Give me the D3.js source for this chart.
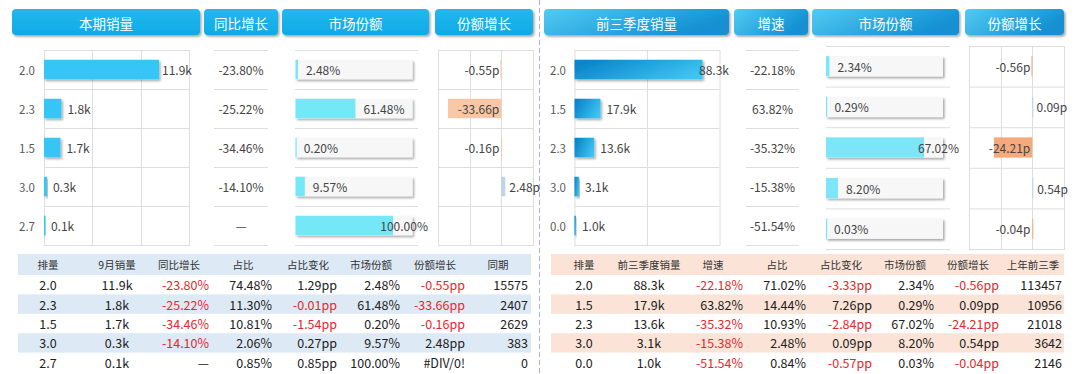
<!DOCTYPE html>
<html>
<head>
<meta charset="utf-8">
<script src="https://cdn.jsdelivr.net/npm/d3@7"></script>
<style>
  body { margin: 0; background: #fff; }
  svg { display: block; font-family: "Noto Sans CJK SC", "Noto Sans", sans-serif; }
</style>
</head>
<body>
<div id="chart"></div>
<script>
// ---- data ----
const leftCats = ["2.0", "2.3", "1.5", "3.0", "2.7"];
const leftSales = [11.9, 1.8, 1.7, 0.3, 0.1];
const leftYoY = ["-23.80%", "-25.22%", "-34.46%", "-14.10%", "—"];
const leftShare = [2.48, 61.48, 0.20, 9.57, 100.00];
const leftShareChg = [-0.55, -33.66, -0.16, 2.48, null];

const rightCats = ["2.0", "1.5", "2.3", "3.0", "0.0"];
const rightSales = [88.3, 17.9, 13.6, 3.1, 1.0];
const rightGrowth = ["-22.18%", "63.82%", "-35.32%", "-15.38%", "-51.54%"];
const rightShare = [2.34, 0.29, 67.02, 8.20, 0.03];
const rightShareChg = [-0.56, 0.09, -24.21, 0.54, -0.04];

const leftHeaders = ["本期销量", "同比增长", "市场份额", "份额增长"];
const rightHeaders = ["前三季度销量", "增速", "市场份额", "份额增长"];

const leftTableHead = ["排量", "9月销量", "同比增长", "占比", "占比变化", "市场份额", "份额增长", "同期"];
const leftTableRows = [
  ["2.0", "11.9k", "-23.80%", "74.48%", "1.29pp", "2.48%", "-0.55pp", "15575"],
  ["2.3", "1.8k", "-25.22%", "11.30%", "-0.01pp", "61.48%", "-33.66pp", "2407"],
  ["1.5", "1.7k", "-34.46%", "10.81%", "-1.54pp", "0.20%", "-0.16pp", "2629"],
  ["3.0", "0.3k", "-14.10%", "2.06%", "0.27pp", "9.57%", "2.48pp", "383"],
  ["2.7", "0.1k", "—", "0.85%", "0.85pp", "100.00%", "#DIV/0!", "0"]
];
const rightTableHead = ["排量", "前三季度销量", "增速", "占比", "占比变化", "市场份额", "份额增长", "上年前三季"];
const rightTableRows = [
  ["2.0", "88.3k", "-22.18%", "71.02%", "-3.33pp", "2.34%", "-0.56pp", "113457"],
  ["1.5", "17.9k", "63.82%", "14.44%", "7.26pp", "0.29%", "0.09pp", "10956"],
  ["2.3", "13.6k", "-35.32%", "10.93%", "-2.84pp", "67.02%", "-24.21pp", "21018"],
  ["3.0", "3.1k", "-15.38%", "2.48%", "0.09pp", "8.20%", "0.54pp", "3642"],
  ["0.0", "1.0k", "-51.54%", "0.84%", "-0.57pp", "0.03%", "-0.04pp", "2146"]
];

const width = 1080, height = 374;
const gridColor = "#dedede";

const svg = d3.select("#chart").append("svg")
  .attr("width", width)
  .attr("height", height);

const defs = svg.append("defs");
const shadow = defs.append("filter").attr("id", "shadow")
  .attr("x", "-10%").attr("y", "-20%").attr("width", "130%").attr("height", "160%");
shadow.append("feDropShadow").attr("dx", 1.5).attr("dy", 1.8)
  .attr("stdDeviation", 1.2).attr("flood-color", "#000").attr("flood-opacity", 0.35);

const gLeftHead = defs.append("linearGradient").attr("id", "headL")
  .attr("x1", 0).attr("y1", 0).attr("x2", 0).attr("y2", 1);
gLeftHead.append("stop").attr("offset", "0%").attr("stop-color", "#22b8ee");
gLeftHead.append("stop").attr("offset", "100%").attr("stop-color", "#0eaae6");

const gRightHead = defs.append("linearGradient").attr("id", "headR")
  .attr("x1", 0).attr("y1", 0).attr("x2", 1).attr("y2", 0.4);
gRightHead.append("stop").attr("offset", "0%").attr("stop-color", "#52cbf2");
gRightHead.append("stop").attr("offset", "100%").attr("stop-color", "#1290d2");

const gBarR = defs.append("linearGradient").attr("id", "barR")
  .attr("x1", 0).attr("y1", 0.3).attr("x2", 1).attr("y2", 0.7);
gBarR.append("stop").attr("offset", "0%").attr("stop-color", "#0a84c9");
gBarR.append("stop").attr("offset", "100%").attr("stop-color", "#3ec6f3");

// divider
svg.append("line")
  .attr("x1", 539.5).attr("x2", 539.5).attr("y1", 0).attr("y2", height)
  .attr("stroke", "#a7acdd").attr("stroke-dasharray", "5,3");

function drawHeaders(labels, spans, fill) {
  const g = svg.append("g");
  labels.forEach((t, i) => {
    g.append("rect")
      .attr("x", spans[i][0]).attr("y", 9)
      .attr("width", spans[i][1] - spans[i][0]).attr("height", 26)
      .attr("rx", 4)
      .attr("fill", fill)
      .attr("filter", "url(#shadow)");
    g.append("text")
      .text(t)
      .attr("x", (spans[i][0] + spans[i][1]) / 2)
      .attr("y", 22.5)
      .attr("text-anchor", "middle")
      .attr("dominant-baseline", "central")
      .attr("fill", "#fff")
      .style("font-size", "13.5px");
  });
}

function hLines(g, x0, x1, rowEdge) {
  g.selectAll(null).data(d3.range(6)).enter().append("line")
    .attr("x1", x0).attr("x2", x1)
    .attr("y1", (d) => rowEdge(d) + 0.5).attr("y2", (d) => rowEdge(d) + 0.5)
    .attr("stroke", gridColor);
}

// label to the right of a bar, pushed back if it would pass the plot edge
function endLabel(g, text, x, y, limit) {
  const t = g.append("text")
    .text(text)
    .attr("x", x).attr("y", y)
    .attr("dominant-baseline", "central")
    .attr("fill", "#444")
    .style("font-size", "12px");
  const w = t.node().getComputedTextLength();
  if (x + w > limit) t.attr("x", limit - w);
}

function drawPanel(p) {
  const rows = d3.range(p.cats.length);
  const rowEdge = d3.scaleLinear().domain([0, 5]).range(p.rowsA);
  const band = d3.scaleBand().domain(rows).range(p.rowsA).paddingInner(0.5).paddingOuter(0.25);
  const rowEdgeB = d3.scaleLinear().domain([0, 5]).range(p.rowsB);
  const bandB = d3.scaleBand().domain(rows).range(p.rowsB).paddingInner(0.5).paddingOuter(0.25);

  // sales bars
  const g1 = svg.append("g");
  const x = d3.scaleLinear().domain(p.salesDomain).range(p.salesRange);
  g1.append("rect")
    .attr("x", p.salesRange[0] + 0.5).attr("y", p.rowsA[0] + 0.5)
    .attr("width", p.salesRange[1] - p.salesRange[0]).attr("height", p.rowsA[1] - p.rowsA[0])
    .attr("fill", "none").attr("stroke", gridColor);
  g1.selectAll(null).data(p.salesTicks).enter().append("line")
    .attr("x1", (d) => Math.round(x(d)) + 0.5).attr("x2", (d) => Math.round(x(d)) + 0.5)
    .attr("y1", p.rowsA[0]).attr("y2", p.rowsA[1])
    .attr("stroke", gridColor);
  hLines(g1, p.salesRange[0], p.salesRange[1], rowEdge);
  g1.selectAll(null).data(rows).enter().append("text")
    .text((i) => p.cats[i])
    .attr("x", p.catX).attr("y", (i) => rowEdge(i + 0.5))
    .attr("dominant-baseline", "central")
    .attr("fill", "#595959")
    .style("font-size", "11.5px");
  g1.selectAll(null).data(rows).enter().append("rect")
    .attr("x", x(0))
    .attr("y", (i) => band(i))
    .attr("width", (i) => Math.max(1.5, x(p.sales[i]) - x(0)))
    .attr("height", band.bandwidth())
    .attr("fill", p.barFill)
    .attr("filter", "url(#shadow)");
  rows.forEach((i) => endLabel(g1, p.sales[i].toFixed(1) + "k", x(p.sales[i]) + 6, rowEdge(i + 0.5), p.salesLimit));

  // growth text column
  const g2 = svg.append("g");
  hLines(g2, p.growthSpan[0], p.growthSpan[1], rowEdge);
  g2.selectAll(null).data(rows).enter().append("text")
    .text((i) => p.growth[i])
    .attr("x", (p.growthSpan[0] + p.growthSpan[1]) / 2).attr("y", (i) => rowEdge(i + 0.5))
    .attr("text-anchor", "middle")
    .attr("dominant-baseline", "central")
    .attr("fill", "#444")
    .style("font-size", "12px");

  // market share bars
  const g3 = svg.append("g");
  const xs = d3.scaleLinear().domain(p.shareDomain).range(p.shareRange);
  hLines(g3, p.shareLines[0], p.shareLines[1], rowEdgeB);
  g3.selectAll(null).data(rows).enter().append("rect")
    .attr("x", xs(0)).attr("y", (i) => bandB(i))
    .attr("width", p.shareRange[1] - p.shareRange[0]).attr("height", bandB.bandwidth())
    .attr("fill", "#f7f7f7")
    .attr("filter", "url(#shadow)");
  g3.selectAll(null).data(rows).enter().append("rect")
    .attr("x", xs(0)).attr("y", (i) => bandB(i))
    .attr("width", (i) => Math.max(1.2, xs(p.share[i]) - xs(0)))
    .attr("height", bandB.bandwidth())
    .attr("fill", p.shareFill);
  rows.forEach((i) => endLabel(g3, p.share[i].toFixed(2) + "%", xs(p.share[i]) + 8, rowEdgeB(i + 0.5), p.shareLimit));

  // share change bars
  const g4 = svg.append("g");
  const xc = d3.scaleLinear().domain([-40, 20]).range(p.chgRange);
  g4.append("rect")
    .attr("x", p.chgRange[0] + 0.5).attr("y", p.rowsB[0] + 0.5)
    .attr("width", p.chgRange[1] - p.chgRange[0]).attr("height", p.rowsB[1] - p.rowsB[0])
    .attr("fill", "none").attr("stroke", gridColor);
  g4.selectAll(null).data([-20, 0]).enter().append("line")
    .attr("x1", (d) => Math.round(xc(d)) + 0.5).attr("x2", (d) => Math.round(xc(d)) + 0.5)
    .attr("y1", p.rowsB[0]).attr("y2", p.rowsB[1])
    .attr("stroke", gridColor);
  hLines(g4, p.chgRange[0], p.chgRange[1], rowEdgeB);
  const chgRows = rows.filter((i) => p.chg[i] !== null);
  g4.selectAll(null).data(chgRows).enter().append("rect")
    .attr("x", (i) => xc(Math.min(0, p.chg[i])))
    .attr("y", (i) => bandB(i))
    .attr("width", (i) => Math.max(1, Math.abs(xc(p.chg[i]) - xc(0))))
    .attr("height", bandB.bandwidth())
    .attr("fill", (i) => p.chg[i] < 0 ? p.negFill : "#bcd4ea");
  g4.selectAll(null).data(chgRows).enter().append("text")
    .text((i) => p.chg[i].toFixed(2) + "p")
    .attr("x", (i) => p.chg[i] < 0 ? xc(0) - 2 : xc(p.chg[i]) + 4)
    .attr("y", (i) => rowEdgeB(i + 0.5))
    .attr("text-anchor", (i) => p.chg[i] < 0 ? "end" : "start")
    .attr("dominant-baseline", "central")
    .attr("fill", "#444")
    .style("font-size", "12px");
}

function drawTable(t) {
  const g = svg.append("g");
  const top = 254, headH = 21, rowH = 19.4;
  g.append("rect")
    .attr("x", t.x0).attr("y", top).attr("width", t.x1 - t.x0).attr("height", headH)
    .attr("fill", t.band);
  g.selectAll(null).data([1, 3]).enter().append("rect")
    .attr("x", t.x0).attr("y", (d) => top + headH + d * rowH)
    .attr("width", t.x1 - t.x0).attr("height", rowH)
    .attr("fill", t.band);
  g.selectAll(null).data(t.head).enter().append("text")
    .text((d) => d)
    .attr("x", (d, i) => t.headX[i])
    .attr("y", top + headH / 2)
    .attr("text-anchor", "middle")
    .attr("dominant-baseline", "central")
    .attr("fill", "#333")
    .style("font-size", "10.5px");
  t.rows.forEach((row, r) => {
    g.selectAll(null).data(row).enter().append("text")
      .text((d) => d)
      .attr("x", (d, i) => t.cellX[i])
      .attr("y", top + headH + r * rowH + rowH / 2)
      .attr("text-anchor", (d, i) => i < 2 ? "middle" : "end")
      .attr("dominant-baseline", "central")
      .attr("fill", (d) => d.startsWith("-") ? "#e8262b" : "#222")
      .style("font-size", "12.5px");
  });
}

drawHeaders(leftHeaders, [[12, 200], [204, 278], [282, 429], [435, 533]], "url(#headL)");
drawHeaders(rightHeaders, [[544, 729], [734, 808], [812, 959], [965, 1064]], "url(#headR)");

drawPanel({
  cats: leftCats, sales: leftSales, growth: leftYoY, share: leftShare, chg: leftShareChg,
  rowsA: [50, 245], rowsB: [50, 245], catX: 19,
  salesDomain: [0, 15], salesRange: [44, 189], salesTicks: [5, 10], salesLimit: 192,
  barFill: "#35c6f6",
  growthSpan: [214, 268],
  shareDomain: [0, 120], shareRange: [295.5, 412.5], shareLines: [295, 418], shareLimit: 428,
  shareFill: "#74e8f6",
  chgRange: [438, 533], negFill: "#f8c7a6"
});

drawPanel({
  cats: rightCats, sales: rightSales, growth: rightGrowth, share: rightShare, chg: rightShareChg,
  rowsA: [50, 245], rowsB: [46, 249], catX: 550,
  salesDomain: [0, 100], salesRange: [574.5, 719.5], salesTicks: [50], salesLimit: 729,
  barFill: "url(#barR)",
  growthSpan: [746, 799],
  shareDomain: [0, 80], shareRange: [826, 943], shareLines: [826, 950], shareLimit: 959,
  shareFill: "#7ce6f8",
  chgRange: [969, 1064], negFill: "#f4aa7c"
});

drawTable({
  x0: 18, x1: 531, band: "#dde9f5",
  head: leftTableHead, rows: leftTableRows,
  headX: [48, 117, 179, 243, 308, 371, 435, 498],
  cellX: [48, 117, 209, 272, 337, 400, 465, 528]
});

drawTable({
  x0: 551, x1: 1064, band: "#fbe4d7",
  head: rightTableHead, rows: rightTableRows,
  headX: [584, 649, 713, 777, 841, 905, 968, 1033],
  cellX: [584, 649, 743, 806, 872, 934, 999, 1062]
});
</script>
</body>
</html>
